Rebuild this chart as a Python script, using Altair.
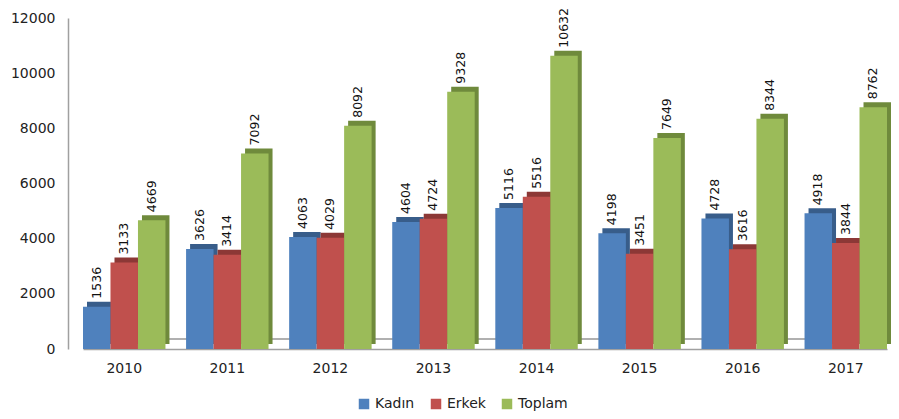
import altair as alt
import pandas as pd

years = ["2010", "2011", "2012", "2013", "2014", "2015", "2016", "2017"]
series_names = ["Kadın", "Erkek", "Toplam"]
kadin = [1536, 3626, 4063, 4604, 5116, 4198, 4728, 4918]
erkek = [3133, 3414, 4029, 4724, 5516, 3451, 3616, 3844]
toplam = [4669, 7092, 8092, 9328, 10632, 7649, 8344, 8762]
y_ticks = [0, 2000, 4000, 6000, 8000, 10000, 12000]

front_colors = ["#4f81bd", "#c0504d", "#9bbb59"]
side_colors = ["#385d8a", "#8c3836", "#6f8a3c"]

rows = []
for i, y in enumerate(years):
    for name, vals in zip(series_names, [kadin, erkek, toplam]):
        rows.append({"year": y, "series": name, "value": vals[i]})
df = pd.DataFrame(rows)

FONT = "DejaVu Sans"
PLOT_W = 804
BAND = PLOT_W / (len(years) - 0.2) * 0.8  # bandwidth of the year scale

x_enc = alt.X(
    "year:N",
    sort=years,
    scale=alt.Scale(paddingInner=0.2, paddingOuter=0),
    axis=alt.Axis(
        title=None, labelAngle=0, ticks=False, labelPadding=12,
        labelFont=FONT, labelFontSize=14, labelColor="#222222",
        domainColor="#a0a0a0", domainWidth=1.5,
    ),
)
y_enc = alt.Y(
    "value:Q",
    scale=alt.Scale(domain=[0, 12000], nice=False),
    axis=alt.Axis(
        title=None, values=y_ticks, format="d", grid=False, ticks=False, offset=15,
        labelPadding=13, labelFont=FONT, labelFontSize=14, labelColor="#222222",
        domainColor="#a0a0a0", domainWidth=1.5,
    ),
)
xoff = alt.XOffset("series:N", sort=series_names)
xoff_side = alt.XOffset("series:N", sort=series_names,
                        scale=alt.Scale(range=[4, BAND + 4]))

base = alt.Chart(df)

floor_back = base.mark_rule(color="#b0b0b0", strokeWidth=1.5, yOffset=-10).encode(
    y=alt.datum(0)
)

side = base.mark_bar(yOffset=-5).encode(
    x=x_enc, y=y_enc, xOffset=xoff_side,
    color=alt.Color("series:N", sort=series_names,
                    scale=alt.Scale(domain=series_names, range=side_colors), legend=None),
)

front = base.mark_bar().encode(
    x=x_enc, y=y_enc, xOffset=xoff,
    color=alt.Color(
        "series:N", sort=series_names,
        scale=alt.Scale(domain=series_names, range=front_colors),
        legend=alt.Legend(
            title=None, orient="none", direction="horizontal",
            legendX=274, legendY=379, symbolType="square", symbolSize=110,
            symbolStrokeWidth=0, labelFont=FONT, labelFontSize=14,
            labelColor="#222222", columnPadding=14, labelOffset=4,
        ),
    ),
)

labels = base.mark_text(
    angle=270, align="left", baseline="middle", dx=8,
    font=FONT, fontSize=12.5, color="#111111",
).encode(
    x=x_enc, y=y_enc, xOffset=xoff, text=alt.Text("value:Q", format="d"),
)

chart = alt.layer(floor_back, side, front, labels).resolve_scale(
    color="independent", xOffset="independent"
).properties(
    width=PLOT_W, height=331,
    padding={"left": 75, "top": 10, "right": 4, "bottom": 62},
    autosize=alt.AutoSizeParams(type="none"),
).configure_view(stroke=None)

chart.save("out.html", embed_options={"renderer": "svg", "actions": False})
